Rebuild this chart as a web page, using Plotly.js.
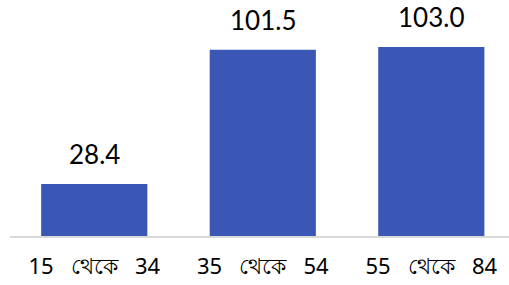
<!DOCTYPE html>
<html><head><meta charset="utf-8">
<script src="https://cdn.plot.ly/plotly-3.0.1.min.js"></script>
<style>html,body{margin:0;padding:0;background:#fff}</style>
</head><body>
<div id="chart" style="width:509px;height:285px"></div>
<script>
const categories = ["15\u00a0\u00a0 থেকে\u00a0\u00a0 34", "35\u00a0\u00a0 থেকে\u00a0\u00a0 54", "55\u00a0\u00a0 থেকে\u00a0\u00a0 84"];
const values = [28.4, 101.5, 103.0];
const valueLabels = ["28.4", "101.5", "103.0"];

const trace = {
  type: 'bar',
  x: categories,
  y: values,
  marker: {color: '#3a57b6'},
  hoverinfo: 'none'
};

const annotations = categories.map((c, i) => ({
  x: c, y: values[i], text: valueLabels[i],
  xref: 'x', yref: 'y', yanchor: 'bottom', showarrow: false,
  yshift: 12,
  font: {family: 'Lato, sans-serif', size: 26, color: '#000'}
}));

const layout = {
  width: 509, height: 285,
  margin: {l: 10, r: 0, t: 0, b: 49},
  bargap: 0.37,
  paper_bgcolor: '#fff', plot_bgcolor: '#fff',
  showlegend: false,
  xaxis: {
    range: [-0.5, 2.461],
    showline: true, linecolor: '#d9d9d9', linewidth: 1.5,
    showgrid: false, zeroline: false, ticks: '',
    ticklabelstandoff: 10,
    tickfont: {family: 'Noto Sans, sans-serif', size: 22, color: '#000'}
  },
  yaxis: {
    range: [0, 128.6], visible: false, showgrid: false, zeroline: false
  },
  annotations: annotations
};

Plotly.newPlot('chart', [trace], layout, {staticPlot: true});
</script>
</body></html>
